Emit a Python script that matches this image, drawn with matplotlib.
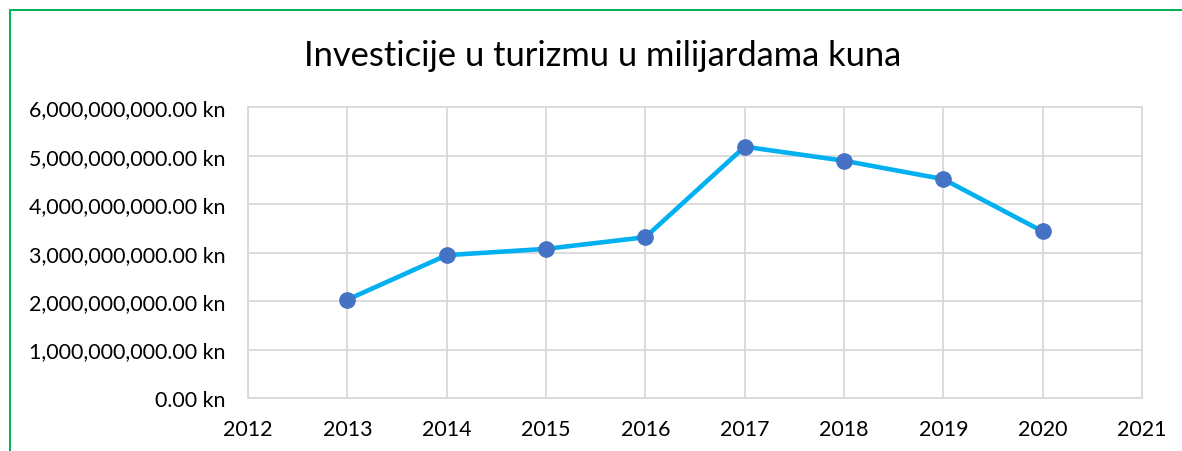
import matplotlib

matplotlib.use("Agg")
import matplotlib.pyplot as plt
from matplotlib.patches import Rectangle
from matplotlib.ticker import FuncFormatter

plt.rcParams["font.family"] = ["Lato", "DejaVu Sans"]

years = [2013, 2014, 2015, 2016, 2017, 2018, 2019, 2020]
investments = [2.03e9, 2.95e9, 3.08e9, 3.32e9, 5.19e9, 4.90e9, 4.52e9, 3.44e9]
x_ticks = list(range(2012, 2022))
y_ticks = [0, 1e9, 2e9, 3e9, 4e9, 5e9, 6e9]
title = "Investicije u turizmu u milijardama kuna"

GRID = "#D9D9D9"

fig = plt.figure(figsize=(11.82, 4.52), dpi=100)
ax = fig.add_axes([0.2098, 0.1173, 0.7564, 0.6427])

# green chart frame (left and top edges visible in the crop)
fig.patches.append(Rectangle((10 / 1182, -0.1), 1.2, 1 - 10.5 / 452 + 0.1,
                             transform=fig.transFigure, fill=False,
                             edgecolor="#00B050", linewidth=1.4))

ax.plot(years, investments, "-o", color="#00B0F0", linewidth=3.3,
        marker="o", markersize=11, markerfacecolor="#4472C4",
        markeredgecolor="#4472C4", zorder=3)

ax.set_xlim(2012, 2021)
ax.set_ylim(0, 6e9)
ax.set_xticks(x_ticks)
ax.set_yticks(y_ticks)
ax.yaxis.set_major_formatter(FuncFormatter(lambda v, _: f"{v:,.2f} kn"))
ax.grid(True, color=GRID, linewidth=1.3)
ax.set_axisbelow(True)
for s in ax.spines.values():
    s.set_color(GRID)
    s.set_linewidth(1.3)
ax.tick_params(length=0, labelsize=15.4, colors="#000000")
ax.tick_params(axis="y", pad=16)
ax.tick_params(axis="x", pad=15)

fig.text(0.51, 0.877, title, ha="center", va="center", fontsize=24.8)

fig.savefig("out.png", dpi=100)
